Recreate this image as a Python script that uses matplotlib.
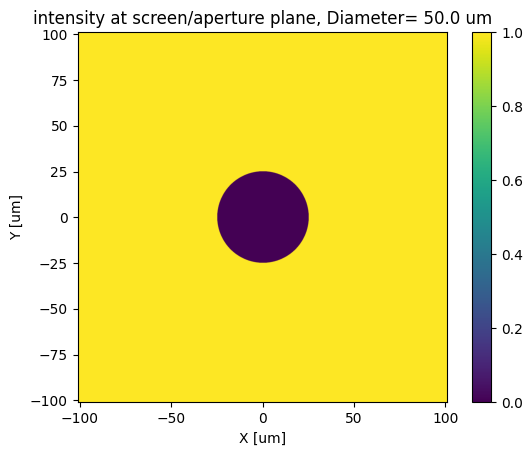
import numpy as np
import matplotlib.pyplot as plt

# aperture / screen parameters
diameter = 50.0          # um, dark disc in the middle
half_width = 101.0       # um, half size of the screen plane
n_pix = 2048
cbar_ticks = [0.0, 0.2, 0.4, 0.6, 0.8, 1.0]

W, H = 531, 455
fig = plt.figure(figsize=(W / 100, H / 100), dpi=100)
ax = fig.add_axes([77.7 / W, (H - 402.3) / H, 369.6 / W, 370 / H])
cax = fig.add_axes([472.3 / W, (H - 402.3) / H, 19 / W, 370 / H])

x = np.linspace(-half_width, half_width, n_pix)
X, Y = np.meshgrid(x, x)
intensity = np.where(np.sqrt(X**2 + Y**2) <= diameter / 2, 0.0, 1.0)

im = ax.imshow(intensity, cmap='viridis', origin='lower', vmin=0, vmax=1,
               extent=[-half_width, half_width, -half_width, half_width],
               interpolation='antialiased')
ax.set_xlabel('X [um]')
ax.set_ylabel('Y [um]')
ax.set_title(f'intensity at screen/aperture plane, Diameter= {diameter} um')

cb = fig.colorbar(im, cax=cax, ticks=cbar_ticks)

fig.savefig('out.png', dpi=100)
